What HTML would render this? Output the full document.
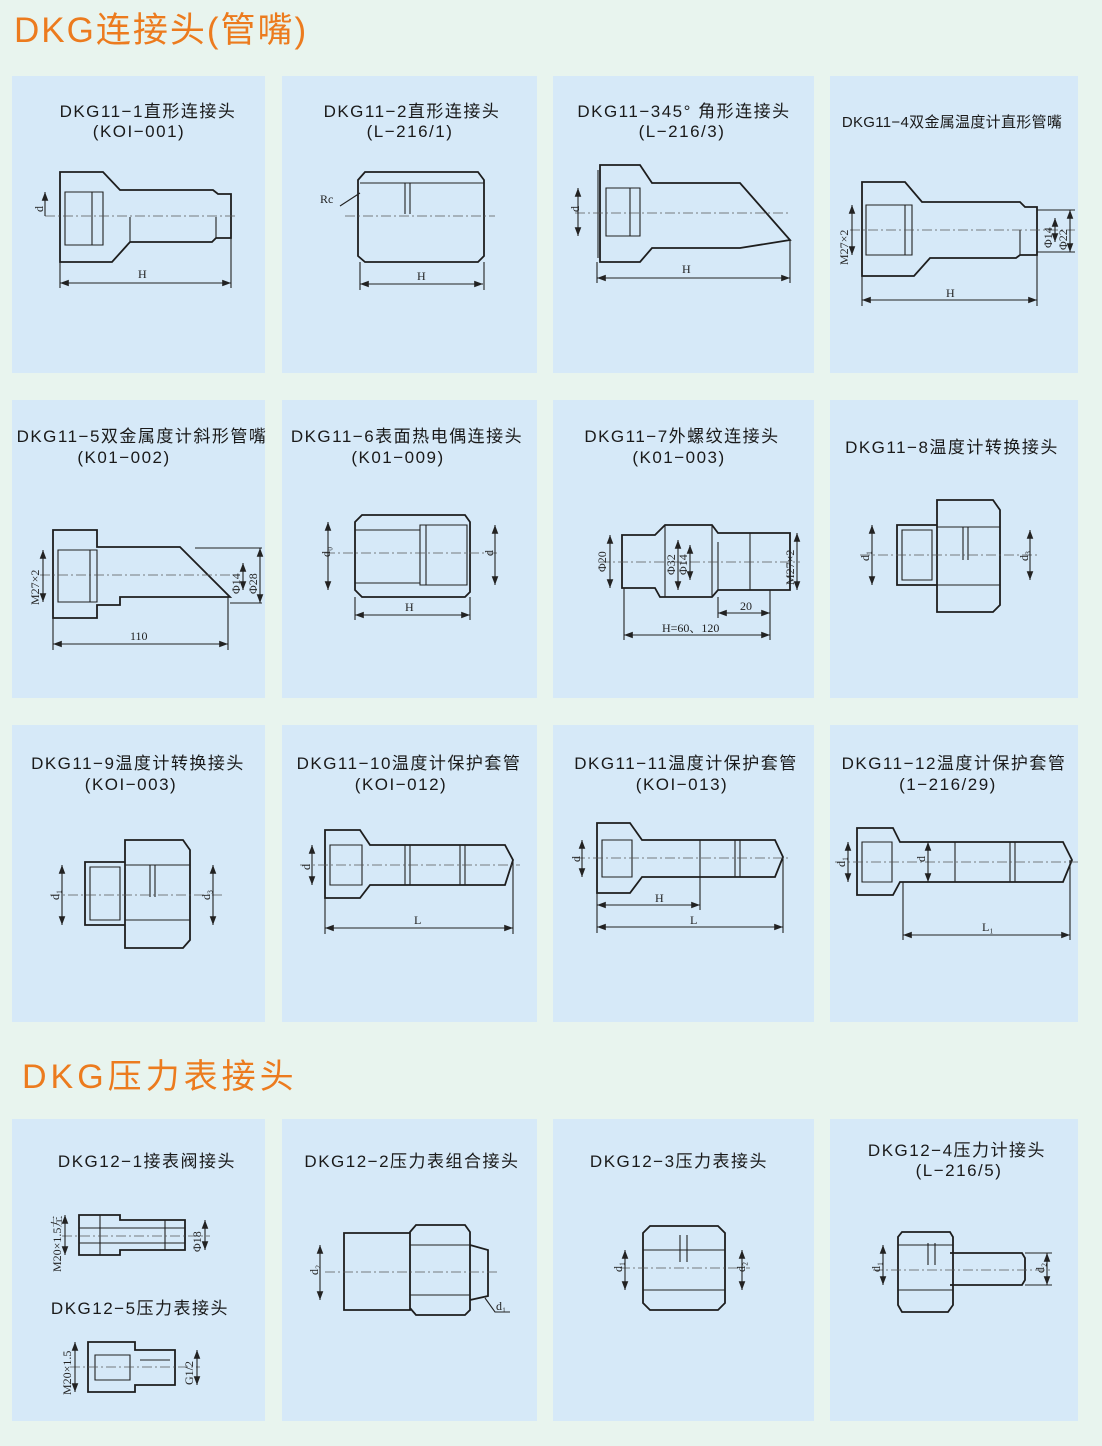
<!DOCTYPE html>
<html><head><meta charset="utf-8"><style>
html,body{margin:0;padding:0;background:#e8f4ee;}
svg{display:block}
text{font-family:"Liberation Sans","Noto Sans CJK SC",sans-serif;}
.t{font-size:17px;fill:#1a1a1a;text-anchor:middle;letter-spacing:1.5px}
.s{font-family:"Liberation Serif","Noto Serif CJK SC",serif;font-size:12px;fill:#222}
.o{fill:none;stroke:#1e1e1e;stroke-width:1.8}
.th{fill:none;stroke:#222;stroke-width:1.1}
.c{stroke:#555;stroke-width:0.8;stroke-dasharray:10 3 2 3;fill:none}
.p{fill:#d6e9f8}
</style></head><body>
<svg width="1102" height="1446" viewBox="0 0 1102 1446" xmlns="http://www.w3.org/2000/svg">
<defs><marker id="a" markerWidth="8" markerHeight="6" refX="8" refY="3" orient="auto-start-reverse"><path d="M0 0L8 3L0 6Z" fill="#222"/></marker></defs>
<rect width="1102" height="1446" fill="#e8f4ee"/>
<text x="14" y="42" style="font-size:35px;fill:#ec7b1e;letter-spacing:2px">DKG连接头(管嘴)</text>
<text x="22" y="1088" style="font-size:34px;fill:#ec7b1e;letter-spacing:4px">DKG压力表接头</text>

<g class="p">
<rect x="12" y="76" width="253" height="297"/><rect x="282" y="76" width="255" height="297"/><rect x="553" y="76" width="261" height="297"/><rect x="830" y="76" width="248" height="297"/>
<rect x="12" y="400" width="253" height="298"/><rect x="282" y="400" width="255" height="298"/><rect x="553" y="400" width="261" height="298"/><rect x="830" y="400" width="248" height="298"/>
<rect x="12" y="725" width="253" height="297"/><rect x="282" y="725" width="255" height="297"/><rect x="553" y="725" width="261" height="297"/><rect x="830" y="725" width="248" height="297"/>
<rect x="12" y="1119" width="253" height="302"/><rect x="282" y="1119" width="255" height="302"/><rect x="553" y="1119" width="261" height="302"/><rect x="830" y="1119" width="248" height="302"/>
</g>

<!-- titles -->
<text class="t" x="148" y="117">DKG11−1直形连接头</text><text class="t" x="139" y="137">(KOI−001)</text>
<text class="t" x="412" y="117">DKG11−2直形连接头</text><text class="t" x="410" y="137">(L−216/1)</text>
<text class="t" x="684" y="117">DKG11−345°  角形连接头</text><text class="t" x="682" y="137">(L−216/3)</text>
<text class="t" x="952" y="127" style="font-size:15px;letter-spacing:0.3px">DKG11−4双金属温度计直形管嘴</text>
<text class="t" x="142" y="442">DKG11−5双金属度计斜形管嘴</text><text class="t" x="124" y="463">(K01−002)</text>
<text class="t" x="407" y="442">DKG11−6表面热电偶连接头</text><text class="t" x="398" y="463">(K01−009)</text>
<text class="t" x="682" y="442">DKG11−7外螺纹连接头</text><text class="t" x="679" y="463">(K01−003)</text>
<text class="t" x="952" y="453">DKG11−8温度计转换接头</text>
<text class="t" x="138" y="769">DKG11−9温度计转换接头</text><text class="t" x="131" y="790">(KOI−003)</text>
<text class="t" x="409" y="769">DKG11−10温度计保护套管</text><text class="t" x="401" y="790">(KOI−012)</text>
<text class="t" x="686" y="769">DKG11−11温度计保护套管</text><text class="t" x="682" y="790">(KOI−013)</text>
<text class="t" x="954" y="769">DKG11−12温度计保护套管</text><text class="t" x="948" y="790">(1−216/29)</text>
<text class="t" x="147" y="1167">DKG12−1接表阀接头</text>
<text class="t" x="140" y="1314">DKG12−5压力表接头</text>
<text class="t" x="412" y="1167">DKG12−2压力表组合接头</text>
<text class="t" x="679" y="1167">DKG12−3压力表接头</text>
<text class="t" x="957" y="1156">DKG12−4压力计接头</text><text class="t" x="959" y="1176">(L−216/5)</text>

<!-- P1 -->
<path class="o" d="M60 172L103 172L120 190L213 190L218 194L231 194L231 238L216 238L212 242L130 242L112 262L60 262Z"/>
<path class="th" d="M65 192H103V245H65ZM92 192V245M130 217V242M216 217V238"/>
<line class="c" x1="45" y1="216" x2="238" y2="216"/>
<line class="th" x1="45" y1="192" x2="45" y2="216" marker-start="url(#a)"/><text class="s" x="40" y="215" transform="rotate(-90 40 212)">d</text>
<line class="th" x1="60" y1="283" x2="231" y2="283" marker-start="url(#a)" marker-end="url(#a)"/><line class="th" x1="60" y1="262" x2="60" y2="288"/><line class="th" x1="231" y1="238" x2="231" y2="288"/><text class="s" x="138" y="278">H</text>
<!-- P2 -->
<path class="o" d="M365 172H478L484 180V256L478 262H365L358 256V180Z"/>
<path class="th" d="M360 183H484M405 183V214M410 183V214"/>
<line class="c" x1="345" y1="216" x2="495" y2="216"/>
<path class="th" d="M340 206L360 193"/><text class="s" x="320" y="203">Rc</text>
<line class="th" x1="360" y1="284" x2="483" y2="284" marker-start="url(#a)" marker-end="url(#a)"/><path class="th" d="M360 262V290M484 262V290"/><text class="s" x="417" y="280">H</text>
<!-- P3 -->
<path class="o" d="M600 165L640 165L652 183L740 183L790 240L740 248L652 248L640 262L600 262Z"/>
<path class="th" d="M606 188H640V236H606ZM630 188V236M598 170V258"/>
<line class="c" x1="575" y1="213" x2="790" y2="213"/>
<line class="th" x1="578" y1="188" x2="578" y2="236" marker-start="url(#a)" marker-end="url(#a)"/><text class="s" x="576" y="215" transform="rotate(-90 576 212)">d</text>
<line class="th" x1="597" y1="278" x2="790" y2="278" marker-start="url(#a)" marker-end="url(#a)"/><path class="th" d="M597 262V283M790 240V283"/><text class="s" x="682" y="273">H</text>
<!-- P4 -->
<path class="o" d="M862 182L905 182L922 202L1020 202L1025 207L1037 207L1037 255L1020 255L1016 258L930 258L914 276L862 276Z"/>
<path class="th" d="M866 205H912V255H866ZM905 205V255M1020 230V255"/>
<line class="c" x1="850" y1="230" x2="1075" y2="230"/>
<line class="th" x1="852" y1="205" x2="852" y2="255" marker-start="url(#a)" marker-end="url(#a)"/><text class="s" x="848" y="265" transform="rotate(-90 848 265)">M27×2</text>
<line class="th" x1="1055" y1="218" x2="1055" y2="242" marker-start="url(#a)" marker-end="url(#a)"/><text class="s" x="1052" y="248" transform="rotate(-90 1052 248)">Φ14</text>
<line class="th" x1="1070" y1="210" x2="1070" y2="252" marker-start="url(#a)" marker-end="url(#a)"/><text class="s" x="1067" y="250" transform="rotate(-90 1067 250)">Φ22</text>
<path class="th" d="M1037 210H1075M1037 252H1075"/>
<line class="th" x1="862" y1="300" x2="1037" y2="300" marker-start="url(#a)" marker-end="url(#a)"/><path class="th" d="M862 276V306M1037 255V306"/><text class="s" x="946" y="297">H</text>
<!-- P5 -->
<path class="o" d="M53 530L97 530L97 547L180 547L230 597L120 597L120 605L97 605L97 618L53 618Z"/>
<path class="th" d="M58 550H97V602H58ZM90 550V602"/>
<line class="c" x1="40" y1="575" x2="235" y2="575"/>
<line class="th" x1="43" y1="550" x2="43" y2="602" marker-start="url(#a)" marker-end="url(#a)"/><text class="s" x="39" y="605" transform="rotate(-90 39 605)">M27×2</text>
<line class="th" x1="243" y1="563" x2="243" y2="590" marker-start="url(#a)" marker-end="url(#a)"/><text class="s" x="240" y="594" transform="rotate(-90 240 594)">Φ14</text>
<line class="th" x1="260" y1="548" x2="260" y2="603" marker-start="url(#a)" marker-end="url(#a)"/><text class="s" x="257" y="594" transform="rotate(-90 257 594)">Φ28</text>
<path class="th" d="M195 548H262M230 603H262"/>
<line class="th" x1="53" y1="644" x2="228" y2="644" marker-start="url(#a)" marker-end="url(#a)"/><path class="th" d="M53 618V650M228 597V650"/><text class="s" x="130" y="640">110</text>
<!-- P6 -->
<path class="o" d="M362 515H465L470 522V592L465 597H362L355 590V522Z"/>
<path class="th" d="M420 525H467V585H420ZM426 525V585M355 530H420M355 583H420"/>
<line class="c" x1="325" y1="553" x2="500" y2="553"/>
<line class="th" x1="328" y1="522" x2="328" y2="590" marker-start="url(#a)" marker-end="url(#a)"/><text class="s" x="330" y="557" transform="rotate(-90 330 557)">d₀</text>
<line class="th" x1="495" y1="525" x2="495" y2="585" marker-start="url(#a)" marker-end="url(#a)"/><text class="s" x="493" y="556" transform="rotate(-90 493 556)">d</text>
<line class="th" x1="355" y1="615" x2="470" y2="615" marker-start="url(#a)" marker-end="url(#a)"/><path class="th" d="M355 597V620M470 597V620"/><text class="s" x="405" y="611">H</text>
<!-- P7 -->
<path class="o" d="M622 535L655 535L665 525L712 525L718 533L790 533L790 590L718 590L712 597L660 597L655 588L622 588Z"/>
<path class="th" d="M665 525V597M712 525V597M718 542V590M750 533V590"/>
<line class="c" x1="600" y1="562" x2="800" y2="562"/>
<line class="th" x1="610" y1="535" x2="610" y2="588" marker-start="url(#a)" marker-end="url(#a)"/><text class="s" x="606" y="572" transform="rotate(-90 606 572)">Φ20</text>
<line class="th" x1="678" y1="540" x2="678" y2="590" marker-start="url(#a)" marker-end="url(#a)"/><text class="s" x="675" y="575" transform="rotate(-90 675 575)">Φ32</text>
<line class="th" x1="690" y1="545" x2="690" y2="580" marker-start="url(#a)" marker-end="url(#a)"/><text class="s" x="687" y="575" transform="rotate(-90 687 575)">Φ14</text>
<line class="th" x1="797" y1="533" x2="797" y2="590" marker-start="url(#a)" marker-end="url(#a)"/><text class="s" x="794" y="585" transform="rotate(-90 794 585)">M27×2</text>
<line class="th" x1="718" y1="613" x2="770" y2="613" marker-start="url(#a)" marker-end="url(#a)"/><text class="s" x="740" y="610">20</text>
<line class="th" x1="624" y1="635" x2="770" y2="635" marker-start="url(#a)" marker-end="url(#a)"/><path class="th" d="M624 588V640M770 590V640M718 597V618"/><text class="s" x="662" y="632">H=60、120</text>
<!-- P8 -->
<path class="o" d="M897 525H937V585H897ZM937 500H993L1000 510V605L993 612H937Z"/>
<path class="th" d="M902 530H932V580H902ZM937 527H1000M937 585H1000M963 527V560M968 527V560"/>
<line class="c" x1="860" y1="555" x2="1040" y2="555"/>
<line class="th" x1="872" y1="525" x2="872" y2="585" marker-start="url(#a)" marker-end="url(#a)"/><text class="s" x="869" y="561" transform="rotate(-90 869 561)">d₁</text>
<line class="th" x1="1030" y1="530" x2="1030" y2="580" marker-start="url(#a)" marker-end="url(#a)"/><text class="s" x="1028" y="561" transform="rotate(-90 1028 561)">d₃</text>
<!-- P9 -->
<path class="o" d="M85 862H125V925H85ZM125 840H183L190 850V940L183 948H125Z"/>
<path class="th" d="M90 867H120V920H90ZM125 865H190M125 920H190M150 865V897M155 865V897"/>
<line class="c" x1="50" y1="895" x2="225" y2="895"/>
<line class="th" x1="62" y1="865" x2="62" y2="925" marker-start="url(#a)" marker-end="url(#a)"/><text class="s" x="59" y="900" transform="rotate(-90 59 900)">d₁</text>
<line class="th" x1="213" y1="865" x2="213" y2="925" marker-start="url(#a)" marker-end="url(#a)"/><text class="s" x="210" y="900" transform="rotate(-90 210 900)">d₃</text>
<!-- P10 -->
<path class="o" d="M325 830L360 830L370 845L505 845L513 860L505 885L370 885L360 898L325 898Z"/>
<path class="th" d="M330 845H362V885H330ZM405 845V885M410 845V885M460 845V885M465 845V885"/>
<line class="c" x1="300" y1="865" x2="520" y2="865"/>
<line class="th" x1="312" y1="845" x2="312" y2="885" marker-start="url(#a)" marker-end="url(#a)"/><text class="s" x="310" y="870" transform="rotate(-90 310 870)">d</text>
<line class="th" x1="325" y1="928" x2="513" y2="928" marker-start="url(#a)" marker-end="url(#a)"/><path class="th" d="M325 898V934M513 860V934"/><text class="s" x="414" y="924">L</text>
<!-- P11 -->
<path class="o" d="M597 823L630 823L642 840L775 840L783 857L775 877L700 877L642 877L630 893L597 893Z"/>
<path class="th" d="M602 840H632V877H602ZM700 840V877M735 840V877M740 840V877"/>
<line class="c" x1="575" y1="858" x2="790" y2="858"/>
<line class="th" x1="582" y1="840" x2="582" y2="877" marker-start="url(#a)" marker-end="url(#a)"/><text class="s" x="580" y="862" transform="rotate(-90 580 862)">d</text>
<line class="th" x1="597" y1="905" x2="700" y2="905" marker-start="url(#a)" marker-end="url(#a)"/><text class="s" x="655" y="902">H</text>
<line class="th" x1="597" y1="927" x2="783" y2="927" marker-start="url(#a)" marker-end="url(#a)"/><path class="th" d="M597 893V933M783 857V933M700 877V910"/><text class="s" x="690" y="924">L</text>
<!-- P12 -->
<path class="o" d="M857 828L893 828L900 842L1063 842L1072 860L1063 882L900 882L893 895L857 895Z"/>
<path class="th" d="M862 842H892V882H862ZM955 842V882M1010 842V882M1015 842V882"/>
<line class="c" x1="835" y1="862" x2="1078" y2="862"/>
<line class="th" x1="848" y1="842" x2="848" y2="882" marker-start="url(#a)" marker-end="url(#a)"/><text class="s" x="845" y="867" transform="rotate(-90 845 867)">d₁</text>
<line class="th" x1="928" y1="842" x2="928" y2="882" marker-start="url(#a)" marker-end="url(#a)"/><text class="s" x="925" y="862" transform="rotate(-90 925 862)">d</text>
<line class="th" x1="903" y1="935" x2="1070" y2="935" marker-start="url(#a)" marker-end="url(#a)"/><path class="th" d="M903 882V940M1070 860V940"/><text class="s" x="982" y="931">L₁</text>
<!-- P13 -->
<path class="o" d="M79 1215H120V1220H185V1250H120V1255H79Z"/>
<path class="th" d="M79 1228H185M79 1243H185M100 1215V1255M165 1220V1250"/>
<line class="c" x1="62" y1="1236" x2="210" y2="1236"/>
<line class="th" x1="65" y1="1215" x2="65" y2="1255" marker-start="url(#a)" marker-end="url(#a)"/><text class="s" x="61" y="1272" transform="rotate(-90 61 1272)">M20×1.5左</text>
<line class="th" x1="205" y1="1220" x2="205" y2="1250" marker-start="url(#a)" marker-end="url(#a)"/><text class="s" x="201" y="1252" transform="rotate(-90 201 1252)">Φ18</text>
<path class="o" d="M88 1342H135V1350H175V1385H135V1392H88Z"/>
<path class="th" d="M95 1355H130V1380H95ZM140 1360H170"/>
<line class="c" x1="70" y1="1367" x2="200" y2="1367"/>
<line class="th" x1="75" y1="1342" x2="75" y2="1392" marker-start="url(#a)" marker-end="url(#a)"/><text class="s" x="71" y="1395" transform="rotate(-90 71 1395)">M20×1.5</text>
<line class="th" x1="197" y1="1350" x2="197" y2="1385" marker-start="url(#a)" marker-end="url(#a)"/><text class="s" x="193" y="1385" transform="rotate(-90 193 1385)">G1/2</text>
<!-- P14 -->
<path class="o" d="M344 1233H410V1310H344ZM416 1225H465L470 1232V1310L465 1315H416L410 1308V1232ZM470 1245L488 1250V1296L470 1300"/>
<path class="th" d="M410 1245H470M410 1295H470"/>
<line class="c" x1="325" y1="1272" x2="500" y2="1272"/>
<line class="th" x1="320" y1="1245" x2="320" y2="1300" marker-start="url(#a)" marker-end="url(#a)"/><text class="s" x="318" y="1275" transform="rotate(-90 318 1275)">d₂</text>
<path class="th" d="M485 1298L495 1312H510"/><text class="s" x="496" y="1310">d₁</text>
<!-- P15 -->
<path class="o" d="M650 1226H718L725 1233V1303L718 1310H650L643 1303V1233Z"/>
<path class="th" d="M643 1250H725M643 1290H725M680 1235V1262M687 1235V1262"/>
<line class="c" x1="620" y1="1268" x2="750" y2="1268"/>
<line class="th" x1="625" y1="1250" x2="625" y2="1290" marker-start="url(#a)" marker-end="url(#a)"/><text class="s" x="622" y="1272" transform="rotate(-90 622 1272)">d₁</text>
<line class="th" x1="742" y1="1250" x2="742" y2="1290" marker-start="url(#a)" marker-end="url(#a)"/><text class="s" x="745" y="1272" transform="rotate(-90 745 1272)">d₂</text>
<!-- P16 -->
<path class="o" d="M902 1232H950L953 1237V1305L948 1312H902L898 1305V1237ZM950 1253H1022L1025 1258V1280L1022 1285H950"/>
<path class="th" d="M898 1245H953M898 1290H953M928 1243V1265M935 1243V1265"/>
<line class="c" x1="873" y1="1270" x2="1050" y2="1270"/>
<line class="th" x1="883" y1="1245" x2="883" y2="1285" marker-start="url(#a)" marker-end="url(#a)"/><text class="s" x="880" y="1272" transform="rotate(-90 880 1272)">d₁</text>
<line class="th" x1="1047" y1="1253" x2="1047" y2="1285" marker-start="url(#a)" marker-end="url(#a)"/><text class="s" x="1044" y="1273" transform="rotate(-90 1044 1273)">d₂</text>
<path class="th" d="M1025 1253H1052M1025 1285H1052"/>
</svg>
</body></html>
